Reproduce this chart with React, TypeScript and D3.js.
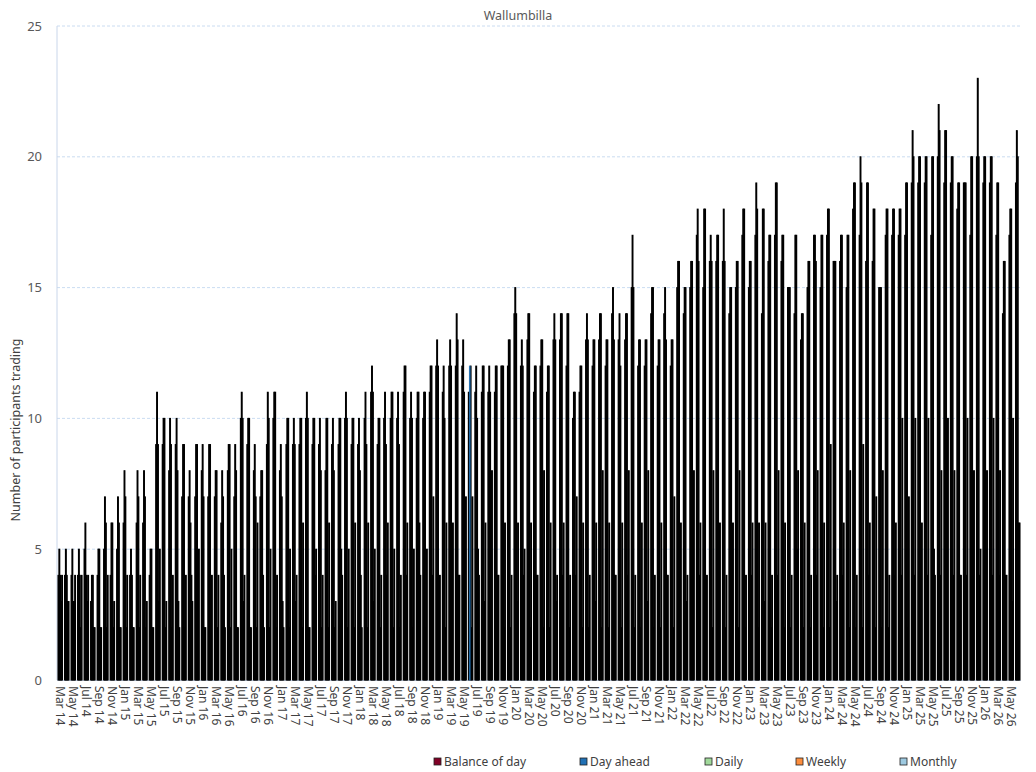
import React from "react";
import * as d3 from "d3";

// Categories: monthly, Mar 2014 .. Jun 2026 (148 months)
const monthDates: Date[] = d3.timeMonth.range(new Date(2014, 2, 1), new Date(2026, 6, 1));
const fmtMonth = d3.timeFormat("%b %y");
const months: string[] = monthDates.map((d) => fmtMonth(d));

const seriesNames = ["Balance of day", "Day ahead", "Daily", "Weekly", "Monthly"];
const seriesColors = ["#800026", "#2171b5", "#a1d99b", "#fd8d3c", "#9ecae1"];

const balanceOfDay = [
  4, 4, 4, 4, 5, 3, 4, 5, 4, 5, 6, 4,
  6, 6, 4, 9, 9, 8, 9, 7, 7, 7, 8, 7,
  7, 6, 8, 7, 10, 9, 8, 7, 9, 10, 8, 9,
  9, 9, 10, 9, 9, 8, 9, 9, 10, 9, 9, 10,
  11, 9, 10, 10, 10, 11, 10, 10, 10, 11, 12, 11,
  12, 12, 12, 11, 11, 11, 11, 11, 12, 12, 14, 12,
  13, 11, 12, 11, 13, 13, 12, 10, 11, 13, 12, 13,
  12, 14, 13, 13, 15, 12, 12, 14, 12, 14, 12, 15,
  14, 15, 17, 15, 16, 16, 16, 14, 15, 17, 15, 17,
  14, 16, 17, 16, 15, 14, 13, 15, 17, 15, 17, 16,
  16, 15, 18, 17, 16, 16, 15, 17, 17, 17, 17, 19,
  19, 19, 17, 20, 19, 19, 18, 19, 17, 20, 19, 19,
  17, 14, 17, 19,
];

const dayAhead = [
  5, 5, 5, 5, 6, 4, 5, 7, 6, 7, 8, 5,
  8, 8, 5, 11, 10, 10, 10, 9, 8, 9, 9, 9,
  8, 8, 9, 9, 11, 10, 9, 8, 11, 11, 9, 10,
  10, 10, 11, 10, 10, 10, 10, 10, 11, 10, 10, 11,
  12, 10, 11, 11, 11, 12, 11, 11, 11, 12, 13, 12,
  13, 14, 13, 12, 12, 12, 12, 12, 12, 13, 15, 13,
  14, 12, 13, 12, 14, 14, 14, 11, 12, 14, 13, 14,
  13, 15, 14, 14, 17, 13, 13, 15, 13, 15, 13, 16,
  15, 16, 18, 18, 17, 17, 18, 15, 16, 18, 16, 19,
  18, 17, 19, 17, 15, 17, 14, 16, 17, 17, 18, 16,
  17, 17, 19, 20, 19, 18, 15, 18, 18, 18, 19, 21,
  20, 20, 20, 22, 21, 20, 19, 19, 20, 23, 20, 20,
  19, 16, 18, 21,
];

const daily = [
  4, 4, 3, 4, 4, 4, 5, 6, 6, 6, 7, 4,
  7, 7, 5, 9, 10, 9, 8, 9, 6, 9, 7, 9,
  8, 7, 9, 8, 10, 10, 7, 8, 10, 11, 7, 10,
  9, 10, 10, 10, 8, 10, 8, 10, 10, 10, 8, 9,
  11, 10, 9, 11, 9, 12, 10, 11, 11, 12, 12, 10,
  12, 13, 11, 12, 10, 12, 11, 12, 12, 13, 14, 12,
  14, 12, 13, 12, 13, 14, 14, 11, 12, 13, 13, 14,
  13, 13, 12, 14, 15, 13, 13, 15, 13, 13, 13, 16,
  15, 16, 16, 18, 16, 17, 16, 15, 16, 18, 16, 18,
  18, 17, 19, 17, 15, 17, 14, 16, 16, 17, 18, 16,
  17, 17, 19, 19, 19, 18, 15, 18, 18, 18, 19, 20,
  20, 20, 20, 21, 21, 20, 19, 19, 20, 20, 20, 20,
  19, 16, 18, 20,
];

const weekly = [
  3, 3, 3, 2, 3, 2, 2, 2, 2, 2, 2, 2,
  2, 2, 2, 3, 2, 2, 3, 2, 4, 2, 2, 2,
  2, 4, 2, 2, 3, 2, 2, 4, 2, 2, 3, 2,
  3, 2, 2, 4, 2, 2, 2, 5, 2, 2, 4, 2,
  3, 2, 4, 2, 2, 4, 2, 6, 2, 4, 3, 2,
  2, 4, 2, 2, 5, 3, 2, 4, 2, 2, 3, 4,
  2, 4, 2, 2, 3, 4, 2, 4, 2, 2, 3, 2,
  2, 4, 2, 4, 2, 2, 3, 2, 2, 4, 2, 2,
  3, 2, 4, 2, 2, 5, 2, 3, 2, 2, 4, 2,
  3, 2, 4, 2, 2, 5, 2, 2, 4, 2, 2, 3,
  4, 2, 2, 2, 4, 2, 2, 2, 4, 4, 2, 4,
  4, 4, 5, 4, 4, 4, 4, 4, 4, 4, 5, 4,
  4, 4, 3, 6,
];

const monthly = [
  4, 3, 4, 4, 4, 2, 2, 4, 3, 2, 4, 2,
  4, 3, 2, 5, 3, 4, 2, 4, 3, 5, 2, 4,
  4, 2, 5, 2, 4, 2, 6, 2, 5, 4, 2, 5,
  4, 6, 2, 5, 4, 6, 3, 4, 5, 6, 2, 6,
  5, 4, 6, 5, 4, 6, 5, 4, 5, 7, 4, 6,
  6, 4, 7, 7, 4, 6, 8, 4, 6, 4, 6, 5,
  6, 4, 8, 6, 4, 6, 4, 7, 6, 4, 6, 8,
  6, 4, 6, 8, 4, 6, 8, 4, 6, 4, 7, 6,
  4, 8, 6, 4, 8, 6, 4, 6, 8, 4, 6, 6,
  6, 4, 8, 6, 4, 8, 6, 4, 8, 6, 9, 4,
  6, 8, 4, 9, 6, 7, 8, 4, 6, 10, 7, 10,
  6, 10, 4, 8, 10, 8, 4, 10, 8, 5, 8, 10,
  8, 4, 10, 6,
];

const seriesValues = [balanceOfDay, dayAhead, daily, weekly, monthly];

// one bar drawn without its black border in the source
const borderless = [{ month: "Jun 19", series: "Day ahead" }];

const yTicks = [0, 5, 10, 15, 20, 25];
const xTickLabels = months.filter((_, i) => i % 2 === 0);

const W = 1036;
const H = 772;
const M = { left: 57, right: 1021, top: 26, bottom: 680 };
const FONT = "'Noto Sans', 'Open Sans', sans-serif";

export default function App() {
  const x0 = d3
    .scaleBand<string>()
    .domain(months)
    .range([M.left, M.right])
    .paddingInner(0.3)
    .paddingOuter(0.15);
  const x1 = d3
    .scaleBand<string>()
    .domain(seriesNames)
    .range([0, x0.bandwidth()])
    .padding(0);
  const y = d3.scaleLinear().domain([0, 25]).range([M.bottom, M.top]);

  const legendX = [434, 580, 705, 796, 900];

  const isBorderless = (m: string, s: string) =>
    borderless.some((b) => b.month === m && b.series === s);

  const bars: { m: string; s: string; k: number; v: number; nb: boolean }[] = [];
  months.forEach((m, i) =>
    seriesNames.forEach((s, k) =>
      bars.push({ m, s, k, v: seriesValues[k][i], nb: isBorderless(m, s) })
    )
  );
  const ordered = [...bars.filter((b) => !b.nb), ...bars.filter((b) => b.nb)];

  return (
    <svg
      width={W}
      height={H}
      style={{ position: "absolute", left: 0, top: 0, display: "block", background: "#fff" }}
      fontFamily={FONT}
    >
      {/* gridlines */}
      {yTicks
        .filter((t) => t > 0)
        .map((t) => (
          <line
            key={"g" + t}
            x1={M.left}
            x2={M.right}
            y1={y(t)}
            y2={y(t)}
            stroke="#bdd3ee"
            strokeWidth={0.8}
            strokeDasharray="3 2"
          />
        ))}
      {/* axes lines */}
      <line x1={M.left} x2={M.left} y1={M.top} y2={M.bottom} stroke="#c9d6ea" strokeWidth={1} />
      <line x1={M.left} x2={M.right} y1={M.bottom + 0.5} y2={M.bottom + 0.5} stroke="#c9d6ea" strokeWidth={1} />

      {/* bars */}
      {ordered.map((b) => (
        <rect
          key={b.m + b.s}
          x={(x0(b.m) ?? 0) + (x1(b.s) ?? 0)}
          width={x1.bandwidth()}
          y={y(b.v)}
          height={y(0) - y(b.v)}
          fill={b.nb ? seriesColors[b.k] : "#000"}
          stroke={b.nb ? seriesColors[b.k] : "#000"}
          strokeWidth={b.nb ? 0.6 : 1}
        />
      ))}

      {/* y tick labels */}
      {yTicks.map((t) => (
        <text
          key={"yt" + t}
          x={42}
          y={y(t)}
          dy="0.35em"
          textAnchor="end"
          fontSize={13}
          fill="#595959"
        >
          {t}
        </text>
      ))}

      {/* x tick labels */}
      {xTickLabels.map((m) => {
        const cx = (x0(m) ?? 0) + x0.bandwidth() / 2;
        return (
          <text
            key={"xt" + m}
            transform={`translate(${cx},${M.bottom + 6}) rotate(90)`}
            dy="0.35em"
            textAnchor="start"
            fontSize={12}
            fill="#404040"
          >
            {m}
          </text>
        );
      })}

      {/* title */}
      <text x={518} y={20} textAnchor="middle" fontSize={12.5} fill="#595959">
        Wallumbilla
      </text>

      {/* y axis title */}
      <text
        transform={`translate(20,430) rotate(-90)`}
        textAnchor="middle"
        fontSize={12.5}
        fill="#404040"
      >
        Number of participants trading
      </text>

      {/* legend */}
      {seriesNames.map((s, k) => (
        <g key={"lg" + s} transform={`translate(${legendX[k]},762)`}>
          <rect x={0} y={-4} width={7} height={7} fill={seriesColors[k]} stroke="#222" strokeWidth={0.8} />
          <text x={10} y={0} dy="0.35em" fontSize={12} fill="#404040">
            {s}
          </text>
        </g>
      ))}
    </svg>
  );
}
